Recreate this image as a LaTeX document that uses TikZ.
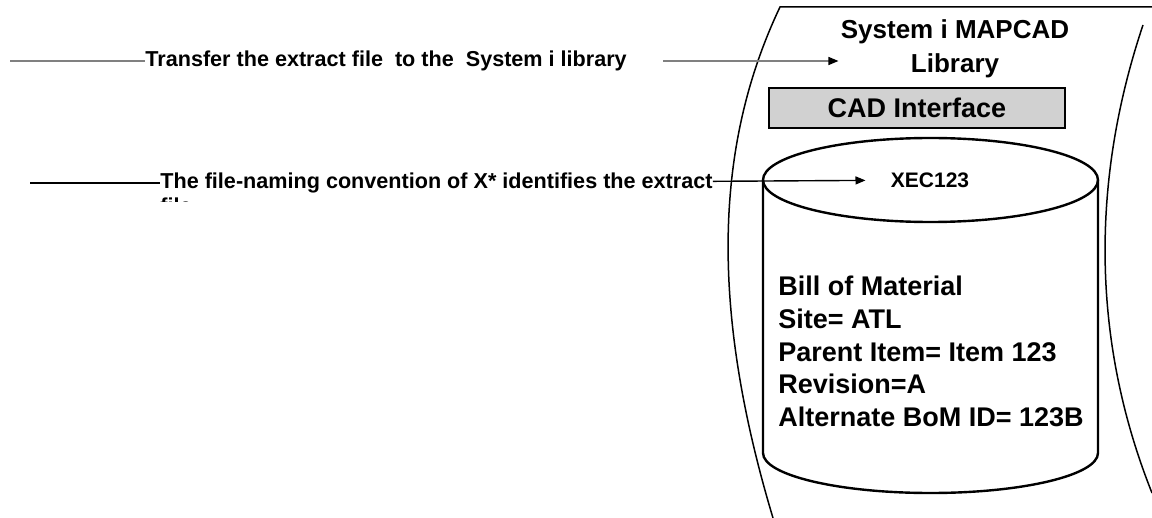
\documentclass[tikz,border=0pt]{standalone}
\usepackage{fontspec}
\setmainfont{Liberation Sans}
\usetikzlibrary{arrows.meta,positioning}

\begin{document}
\begin{tikzpicture}[
        x=0.5pt, y=-0.5pt,
        note/.style={inner sep=0pt, font=\bfseries\fontsize{10.8}{13}\selectfont},
        line/.style={line width=0.7pt},
        arrow/.style={line width=0.7pt, -{Triangle[length=5pt,width=4pt,color=black]}},
        drum/.style={line width=1.2pt},
        ifacebox/.style={draw, line width=0.8pt, fill=black!18, minimum width=148pt, minimum height=20pt, font=\bfseries\fontsize{13.5}{16}\selectfont}
    ]
        \useasboundingbox (0,0) rectangle (1152,518);

        % Library outline
        \draw[line width=0.75pt] (1152,7) -- (780,7) .. controls (712,150) and (712,315) .. (773,518);
        \draw[line width=0.75pt] (1143,25) .. controls (1091,180) and (1091,340) .. (1152,493);

        % Library title
        \node[align=center, inner sep=1pt, font=\bfseries\fontsize{13}{17}\selectfont] (title) at (955,49) {System i MAPCAD\\Library};
        \node[ifacebox] (iface) at (917,108) {CAD Interface};

        % Extract file
        \draw[drum] (930.5,180) ellipse [x radius=83.75pt, y radius=21pt];
        \draw[drum] (763,180) -- (763,453) arc [start angle=180, end angle=360, x radius=83.75pt, y radius=20pt] -- (1098,180);
        \node[inner sep=0pt, font=\bfseries\fontsize{10.5}{12}\selectfont] (xec) at (930,180) {XEC123};
        \node[anchor=north west, align=left, inner sep=0pt, font=\bfseries\fontsize{13.5}{16.3}\selectfont] (bom) at (778,276)
            {Bill of Material\\Site= ATL\\Parent Item= Item 123\\Revision=A\\Alternate BoM ID= 123B};

        % Transfer
        \coordinate (s1) at (10,61);
        \node[note, anchor=west] (t1) at (145,61) {Transfer the extract file~ to the~ System i library};
        \draw[line, gray] (s1) -- (t1);
        \draw[arrow, gray, shorten <=18pt] (t1) -- (title.west |- t1);

        % Naming convention
        \coordinate (s2) at (30,183);
        \node[note, anchor=west] (t2) at (160,183) {The file-naming convention of X* identifies the extract};
        \begin{scope}
            \clip (150,195) rectangle (260,202);
            \node[note, anchor=north west] (t2b) at ([yshift=-2pt]t2.south west) {file};
        \end{scope}
        \draw[line] (s2) -- (t2);
        \draw[arrow, shorten >=12.5pt] (t2) -- (xec);
    \end{tikzpicture}
\end{document}
